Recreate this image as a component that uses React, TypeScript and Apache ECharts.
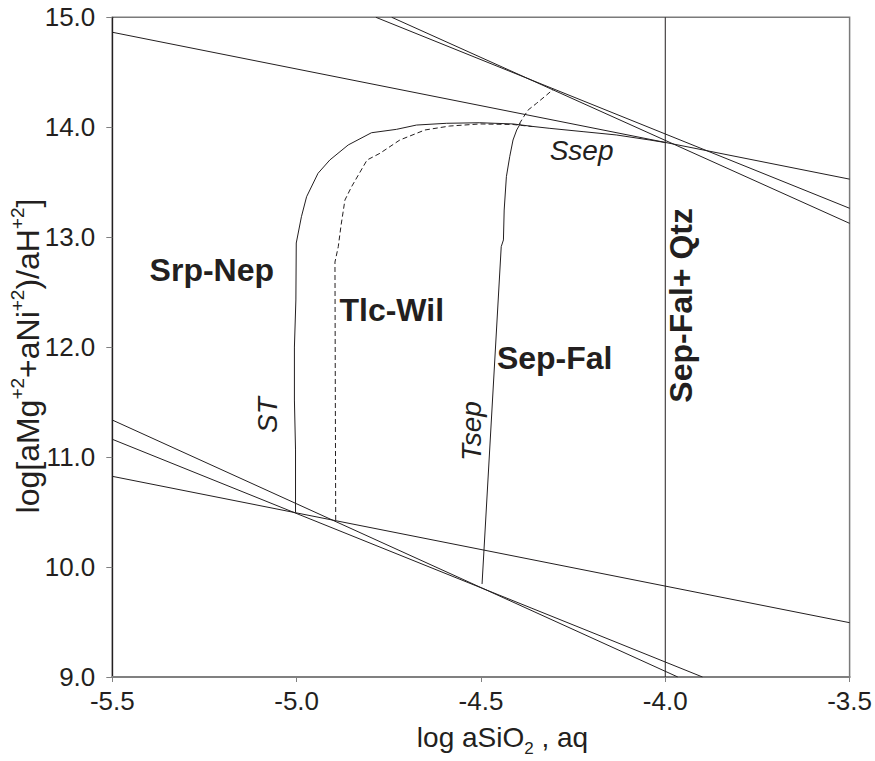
import React, { useEffect, useRef } from 'react';
import * as echarts from 'echarts';

// axis ranges / ticks
const xMin = -5.5;
const xMax = -3.5;
const xStep = 0.5;
const yMin = 9;
const yMax = 15;
const yStep = 1;

// straight reaction lines (log aSiO2, log ratio)
const upperLineA = [[-5.5, 14.864], [-3.5, 13.528]];
const upperLineB = [[-4.742, 15.0], [-3.5, 13.126]];
const upperLineC = [[-4.785, 15.0], [-3.5, 13.263]];
const lowerLineA = [[-5.5, 11.337], [-3.966, 9.0]];
const lowerLineB = [[-5.5, 11.162], [-3.899, 9.0]];
const lowerLineC = [[-5.5, 10.825], [-3.5, 9.494]];
const quartzLine = [[-4.0, 9.0], [-4.0, 15.0]];

// ST + Ssep boundary (solid)
const curveSTSsep = [
  [-5.003, 10.498], [-5.003, 11.065], [-5.006, 11.519], [-5.006, 12.001],
  [-5.002, 12.429], [-5.001, 12.947], [-4.987, 13.186], [-4.973, 13.368],
  [-4.942, 13.581], [-4.91, 13.702], [-4.86, 13.839], [-4.797, 13.95],
  [-4.729, 13.981], [-4.675, 14.02], [-4.593, 14.036], [-4.503, 14.041],
  [-4.413, 14.03], [-4.359, 14.007], [-4.313, 13.99], [-4.223, 13.96],
  [-4.133, 13.93], [-4.042, 13.884], [-4.0, 13.861],
];

// Tlc-Wil boundary (dashed)
const curveTlcWil = [
  [-4.894, 10.428], [-4.895, 11.519], [-4.896, 12.774], [-4.887, 12.914],
  [-4.88, 13.096], [-4.869, 13.338], [-4.851, 13.459], [-4.809, 13.702],
  [-4.774, 13.763], [-4.72, 13.884], [-4.652, 13.975], [-4.585, 14.011],
  [-4.503, 14.03], [-4.413, 14.025], [-4.36, 14.006],
];

// Tsep boundary (solid)
const curveTsep = [
  [-4.497, 9.846], [-4.445, 12.914], [-4.439, 12.975], [-4.437, 13.247],
  [-4.431, 13.55], [-4.422, 13.732], [-4.413, 13.884], [-4.403, 13.975],
  [-4.393, 14.034],
];

// metastable Tsep extension (dashed)
const curveTsepMeta = [
  [-4.396, 14.03], [-4.384, 14.096], [-4.372, 14.157], [-4.349, 14.218],
  [-4.322, 14.293], [-4.304, 14.345],
];

// field / curve labels: text, anchor x, anchor y
const labelTexts = ['Srp-Nep', 'Tlc-Wil', 'Sep-Fal', 'Sep-Fal+ Qtz', 'ST', 'Tsep', 'Ssep'];
const labelX = [-5.23, -4.742, -4.3, -3.958, -5.078, -4.525, -4.227];
const labelY = [12.7, 12.338, 11.9, 12.38, 11.383, 11.237, 13.793];
const labelBold = [true, true, true, true, false, false, false];
const labelRotated = [false, false, false, true, true, true, false];

const FONT = "'Liberation Sans', Arial, Helvetica, sans-serif";
const INK = '#231f20';

export default function App() {
  const ref = useRef<HTMLDivElement>(null);

  useEffect(() => {
    if (!ref.current) return;
    const chart = echarts.init(ref.current, undefined, { renderer: 'svg' });

    const solid = (name: string, data: number[][]) => ({
      name,
      type: 'line',
      data,
      symbol: 'none',
      showSymbol: false,
      silent: true,
      lineStyle: { color: INK, width: 1 },
      z: 3,
    });
    const dashed = (name: string, data: number[][]) => ({
      name,
      type: 'line',
      data,
      symbol: 'none',
      showSymbol: false,
      silent: true,
      lineStyle: { color: INK, width: 1, type: [5, 3] },
      z: 3,
    });

    chart.setOption({
      animation: false,
      grid: {
        left: 112.3,
        right: 25,
        top: 17.3,
        bottom: 84,
        show: true,
        borderColor: '#7a7a7a',
        borderWidth: 1.5,
        backgroundColor: 'transparent',
      },
      xAxis: {
        type: 'value',
        min: xMin,
        max: xMax,
        interval: xStep,
        axisLine: { show: true, onZero: false, lineStyle: { color: '#808080', width: 2 } },
        axisTick: { show: true, length: 5, lineStyle: { color: '#808080', width: 1 } },
        axisLabel: {
          margin: 11,
          color: INK,
          fontSize: 26,
          fontFamily: FONT,
          formatter: (v: number) => v.toFixed(1),
        },
        splitLine: { show: false },
      },
      yAxis: {
        type: 'value',
        min: yMin,
        max: yMax,
        interval: yStep,
        axisLine: { show: true, onZero: false, lineStyle: { color: INK, width: 1.3 } },
        axisTick: { show: true, length: 6, lineStyle: { color: '#808080', width: 1 } },
        axisLabel: {
          margin: 17,
          color: INK,
          fontSize: 26,
          fontFamily: FONT,
          formatter: (v: number) => v.toFixed(1),
        },
        splitLine: { show: false },
      },
      series: [
        solid('upperA', upperLineA),
        solid('upperB', upperLineB),
        solid('upperC', upperLineC),
        solid('lowerA', lowerLineA),
        solid('lowerB', lowerLineB),
        solid('lowerC', lowerLineC),
        solid('quartz', quartzLine),
        solid('ST-Ssep', curveSTSsep),
        dashed('Tlc-Wil', curveTlcWil),
        solid('Tsep', curveTsep),
        dashed('Tsep-meta', curveTsepMeta),
      ],
    });

    const labelGraphics = labelTexts.map((t, i) => {
      const p = chart.convertToPixel({ gridIndex: 0 }, [labelX[i], labelY[i]]) as number[];
      return {
        type: 'text',
        x: p[0],
        y: p[1],
        rotation: labelRotated[i] ? Math.PI / 2 : 0,
        silent: true,
        z: 10,
        style: {
          text: t,
          fill: INK,
          font: labelBold[i] ? `bold 32px ${FONT}` : `italic 28px ${FONT}`,
          align: 'center',
          verticalAlign: 'middle',
        },
      };
    });

    const xName = {
      type: 'text',
      x: 502.5,
      y: 738,
      silent: true,
      style: {
        text: '{a|log aSiO}{s|2}{a| , aq}',
        align: 'center',
        verticalAlign: 'middle',
        rich: {
          a: { fontSize: 28, fontFamily: FONT, fill: INK, lineHeight: 30, verticalAlign: 'top' },
          s: { fontSize: 17, fontFamily: FONT, fill: INK, lineHeight: 17, padding: [17, 0, 0, 0], verticalAlign: 'top' },
        },
      },
    };

    const yName = {
      type: 'text',
      x: 27,
      y: 356,
      rotation: Math.PI / 2,
      silent: true,
      style: {
        text: '{a|log[aMg}{p|+2}{a|+aNi}{p|+2}{a|)/aH}{p|+2}{a|]}',
        align: 'center',
        verticalAlign: 'middle',
        rich: {
          a: { fontSize: 32, fontFamily: FONT, fill: INK, lineHeight: 38, padding: [4, 0, 0, 0], verticalAlign: 'top' },
          p: { fontSize: 19, fontFamily: FONT, fill: INK, lineHeight: 19, verticalAlign: 'top' },
        },
      },
    };

    chart.setOption({ graphic: [...labelGraphics, xName, yName] });

    return () => chart.dispose();
  }, []);

  return (
    <div
      ref={ref}
      style={{ position: 'fixed', left: 0, top: 0, width: 875, height: 761, background: '#fff' }}
    />
  );
}
